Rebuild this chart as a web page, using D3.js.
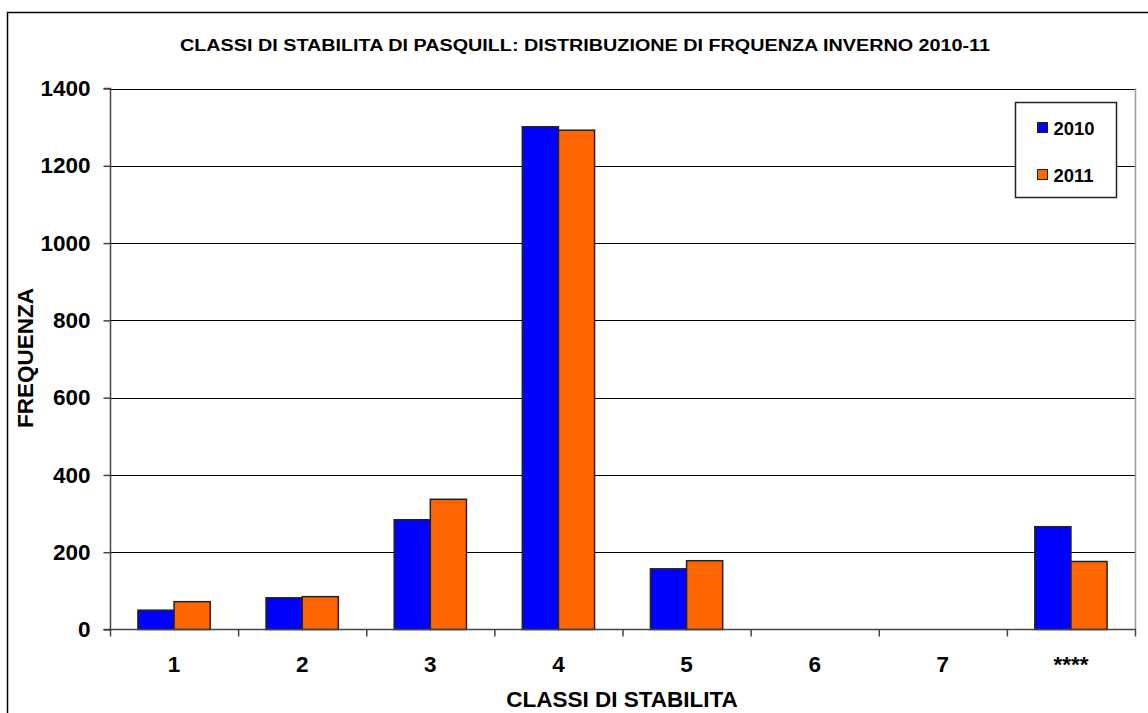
<!DOCTYPE html>
<html>
<head>
<meta charset="utf-8">
<script src="https://cdn.jsdelivr.net/npm/d3@7"></script>
<style>
  html, body { margin: 0; padding: 0; background: #fff; }
  svg { display: block; font-family: "Liberation Sans", Arial, sans-serif; }
</style>
</head>
<body>
<svg id="chart" width="1148" height="713"></svg>
<script>
// Pasquill stability classes, winter 2010-11 frequency counts
const categories = ["1", "2", "3", "4", "5", "6", "7", "****"];
const seriesNames = ["2010", "2011"];
const values2010 = [50, 82, 284, 1301, 157, 0, 0, 266];
const values2011 = [72, 85, 337, 1292, 178, 0, 0, 176];
const yTicks = [0, 200, 400, 600, 800, 1000, 1200, 1400];
const colors = ["#0000ff", "#ff6600"];

const svg = d3.select("#chart");
const W = 1148, H = 713;
const plot = { left: 110, right: 1135, top: 88.5, bottom: 629.5 };

// chart frame
svg.append("rect").attr("x", 7.5).attr("y", 12.5).attr("width", W + 20).attr("height", H + 20)
  .attr("fill", "#fff").attr("stroke", "#000").attr("stroke-width", 1.5);

const x = d3.scaleBand().domain(categories).range([plot.left, plot.right]).paddingInner(0).paddingOuter(0);
const y = d3.scaleLinear().domain([0, 1400]).range([plot.bottom, plot.top]);
const groupPad = 0.218;
const inner = d3.scaleBand().domain(seriesNames)
  .range([x.bandwidth() * groupPad, x.bandwidth() * (1 - groupPad)]);

// gridlines
svg.append("g").selectAll("line").data(yTicks.filter(d => d > 0)).join("line")
  .attr("x1", plot.left).attr("x2", plot.right)
  .attr("y1", d => Math.round(y(d)) + 0.5).attr("y2", d => Math.round(y(d)) + 0.5)
  .attr("stroke", "#000").attr("stroke-width", 1);

// right edge of plot area
svg.append("line").attr("x1", plot.right + 0.5).attr("x2", plot.right + 0.5)
  .attr("y1", plot.top).attr("y2", plot.bottom).attr("stroke", "#9a9a9a").attr("stroke-width", 1.5);

// bars
const rows = categories.map((c, i) => ({ cat: c, vals: [values2010[i], values2011[i]] }));
const groups = svg.append("g").selectAll("g").data(rows).join("g")
  .attr("transform", d => `translate(${x(d.cat)},0)`);
groups.selectAll("rect").data(d => d.vals.filter(v => v > 0).map((v, k) => ({ v, s: seriesNames[k], k })))
  .join("rect")
  .attr("x", d => inner(d.s))
  .attr("width", inner.bandwidth())
  .attr("y", d => y(d.v))
  .attr("height", d => y(0) - y(d.v))
  .attr("fill", d => colors[d.k])
  .attr("stroke", "#222").attr("stroke-width", 1.5);

// y axis
const yAxis = d3.axisLeft(y).tickValues(yTicks).tickSize(7).tickPadding(13).tickFormat(d3.format("d"));
const gy = svg.append("g").attr("transform", `translate(${plot.left + 0.5},0)`).call(yAxis);
gy.select(".domain").attr("stroke", "#444").attr("stroke-width", 1.5).attr("d", `M-7,${plot.top}H0V${plot.bottom}H-7`);
gy.selectAll(".tick line").attr("stroke", "#444").attr("stroke-width", 1.5);
gy.selectAll(".tick text").attr("font-size", 22.5).attr("font-weight", "bold")
  .attr("fill", "#000").attr("font-family", "Liberation Sans, Arial, sans-serif");

// x axis: baseline and boundary ticks
const gx = svg.append("g").attr("transform", `translate(0,${plot.bottom})`);
gx.append("line").attr("x1", plot.left).attr("x2", plot.right + 1)
  .attr("y1", 0).attr("y2", 0).attr("stroke", "#444").attr("stroke-width", 1.5);
const bounds = categories.map(c => x(c)).concat([plot.right]);
gx.selectAll("line.tk").data(bounds).join("line").attr("class", "tk")
  .attr("x1", d => d + 0.5).attr("x2", d => d + 0.5).attr("y1", 0).attr("y2", 7)
  .attr("stroke", "#444").attr("stroke-width", 1.5);
gx.selectAll("text").data(categories).join("text")
  .attr("x", d => x(d) + x.bandwidth() / 2).attr("y", 42)
  .attr("text-anchor", "middle").attr("font-size", 22.5).attr("font-weight", "bold")
  .text(d => d);

// title
svg.append("text").attr("x", 585).attr("y", 51).attr("text-anchor", "middle")
  .attr("font-size", 16).attr("font-weight", "bold")
  .attr("textLength", 810).attr("lengthAdjust", "spacingAndGlyphs")
  .text("CLASSI DI STABILITA DI PASQUILL: DISTRIBUZIONE DI FRQUENZA INVERNO 2010-11");

// axis titles
svg.append("text").attr("x", 622).attr("y", 707).attr("text-anchor", "middle")
  .attr("font-size", 22.5).attr("font-weight", "bold").text("CLASSI DI STABILITA");
svg.append("text").attr("transform", `translate(33,358) rotate(-90)`).attr("text-anchor", "middle")
  .attr("font-size", 22.5).attr("font-weight", "bold").text("FREQUENZA");

// legend
const lg = svg.append("g").attr("transform", "translate(1015.5,102.5)");
lg.append("rect").attr("width", 101).attr("height", 95).attr("fill", "#fff")
  .attr("stroke", "#222").attr("stroke-width", 1.5);
const items = lg.selectAll("g").data(seriesNames).join("g")
  .attr("transform", (d, i) => `translate(22,${25 + i * 47})`);
items.append("rect").attr("width", 10).attr("height", 10).attr("y", -5)
  .attr("fill", (d, i) => colors[i]).attr("stroke", "#222").attr("stroke-width", 1);
items.append("text").attr("x", 16).attr("y", 7).attr("font-size", 18.5).attr("font-weight", "bold").text(d => d);
</script>
</body>
</html>
